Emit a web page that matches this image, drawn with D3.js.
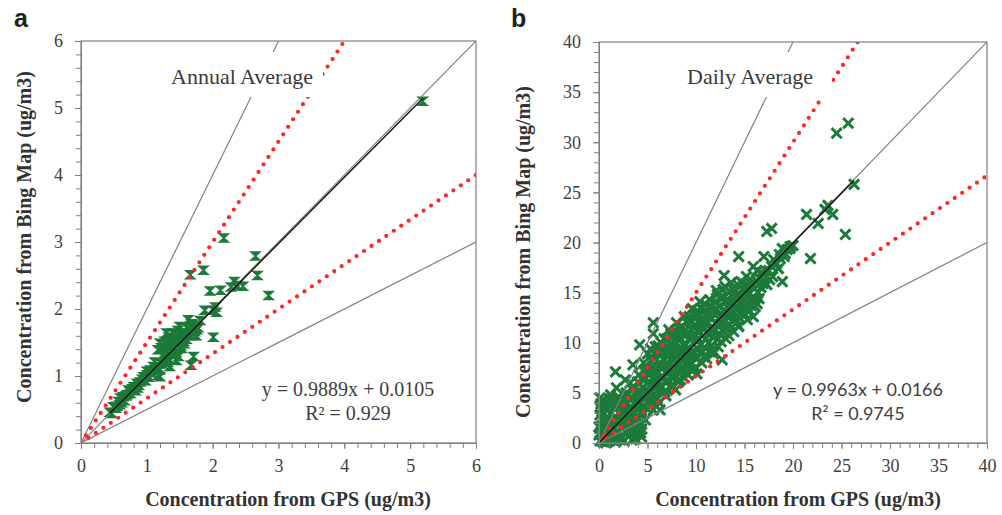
<!DOCTYPE html>
<html>
<head>
<meta charset="utf-8">
<script src="https://cdn.jsdelivr.net/npm/d3@7"></script>
<style>
  body { margin: 0; background: #fff; }
  .tick text { font-family: "Liberation Serif", serif; font-size: 18px; fill: #404040; }
  .axis path, .axis line { stroke: #7f7f7f; }
</style>
</head>
<body>
<script>
// panel a - annual average, GPS (x) vs Bing Map (y)
var annualPoints = [
  [0.44, 0.46], [0.47, 0.44], [0.49, 0.54], [0.53, 0.52], [0.55, 0.55], [0.57, 0.62], [0.59, 0.57],
  [0.60, 0.67], [0.62, 0.60], [0.64, 0.69], [0.66, 0.63], [0.68, 0.70], [0.70, 0.72], [0.72, 0.79], [0.75, 0.74],
  [0.78, 0.81], [0.80, 0.84], [0.83, 0.78], [0.85, 0.89], [0.86, 0.82], [0.88, 0.86], [0.90, 0.91],
  [0.93, 0.95], [0.95, 0.99], [0.98, 0.93], [1.00, 1.02], [1.00, 1.07], [1.03, 0.98], [1.05, 1.09],
  [1.08, 1.05], [1.10, 1.14], [1.12, 1.21], [1.15, 1.12], [1.17, 1.01], [1.17, 1.39], [1.20, 1.09],
  [1.20, 1.49], [1.20, 0.99], [1.22, 1.42], [1.23, 1.18], [1.25, 1.29], [1.27, 1.52], [1.28, 1.35], [1.28, 1.22],
  [1.30, 1.39], [1.30, 1.64], [1.32, 1.46], [1.32, 1.20], [1.33, 1.58], [1.35, 1.24], [1.35, 1.14], [1.37, 1.52],
  [1.38, 1.36], [1.40, 1.44], [1.40, 1.64], [1.42, 1.33], [1.43, 1.50], [1.45, 1.23], [1.45, 1.58], [1.47, 1.68],
  [1.48, 1.29], [1.48, 1.54], [1.50, 1.74], [1.51, 1.60], [1.52, 1.45], [1.53, 1.41], [1.55, 1.62], [1.56, 1.52],
  [1.57, 1.48], [1.58, 1.64], [1.60, 1.55], [1.60, 1.72], [1.62, 1.62], [1.63, 1.84], [1.64, 1.70], [1.66, 1.69],
  [1.68, 1.60], [1.68, 1.78], [1.70, 1.76], [1.71, 1.29], [1.67, 1.16], [1.72, 1.68], [1.73, 1.66], [1.75, 1.60],
  [1.76, 1.69], [1.78, 1.72], [1.81, 1.83], [1.66, 2.51], [1.86, 2.58], [1.96, 2.27], [2.12, 2.28], [1.88, 1.98],
  [2.01, 1.98], [2.04, 2.03], [2.06, 1.95], [2.01, 1.58], [2.17, 3.06], [2.28, 2.33], [2.33, 2.41], [2.37, 2.35],
  [2.46, 2.34], [2.65, 2.79], [2.68, 2.50], [2.85, 2.20], [5.19, 5.10]
];
var annualTicks = [0, 1, 2, 3, 4, 5, 6];
var annualFit = [0.9889, 0.0105];   // slope, intercept
var annualFitRange = [0.44, 5.19];
var annualEquation = ["y = 0.9889x + 0.0105", "R\u00b2 = 0.929"];

// panel b - daily average
var dailyPoints = [
  [0.1, 0.2], [0.2, 1.1], [0.3, 2.3], [0.2, 3.4], [0.4, 4.3], [0.5, 0.6], [0.3, 1.7], [0.5, 2.9], [0.6, 3.9], [0.4, 0.1],
  [0.0, 0.8], [0.1, 2.8], [0.2, 3.9], [0.6, 1.3], [0.7, 2.2], [0.9, 4.0], [0.0, 1.6], [0.1, 4.5], [0.7, 0.0],
  [0.8, 0.3], [0.9, 1.4], [1.0, 2.4], [0.8, 3.3], [1.1, 4.4], [1.2, 0.9], [1.0, 1.9], [1.2, 3.0], [1.3, 3.8], [1.1, 0.2],
  [1.3, 1.2], [1.4, 2.1], [1.4, 4.4], [1.8, 0.6], [1.9, 3.6], [2.2, 2.3], [2.2, 0.3],
  [1.5, 0.5], [1.6, 1.5], [1.7, 2.6], [1.5, 3.5], [1.8, 4.2], [2.0, 1.0], [1.9, 2.0], [2.1, 3.1], [2.0, 4.6], [1.7, 0.1],
  [2.3, 0.6], [2.4, 1.6], [2.5, 2.4], [2.6, 3.3], [2.4, 4.1], [2.8, 5.0], [2.7, 1.1], [2.9, 2.0], [2.8, 2.9], [2.6, 0.2],
  [2.5, 3.8], [2.9, 4.0], [3.0, 1.3], [3.3, 2.9], [3.7, 3.8], [3.7, 5.0], [3.0, 4.9], [2.5, 1.9], [3.4, 0.3], [3.9, 0.9], [4.4, 0.6],
  [3.1, 0.7], [3.2, 1.7], [3.0, 2.6], [3.3, 3.6], [3.4, 4.5], [3.5, 5.3], [3.4, 1.2], [3.6, 2.3], [3.5, 3.2], [3.2, 6.0],
  [3.8, 0.4], [3.9, 1.5], [4.0, 2.5], [4.1, 3.4], [3.9, 4.2], [4.2, 5.1], [4.0, 6.1], [4.3, 1.0], [4.2, 2.0], [4.3, 4.0], [4.1, 6.8],
  [4.5, 2.8], [4.6, 3.7], [4.7, 4.6], [4.5, 5.5], [4.8, 6.4], [4.9, 7.3], [4.6, 8.0], [5.0, 3.4], [4.9, 5.0], [5.0, 8.9], [4.4, 1.4],
  [4.4, 3.2], [4.3, 4.8], [4.5, 6.3], [4.7, 7.1], [4.8, 2.3], [5.1, 4.6], [5.1, 6.1], [5.0, 7.6], [5.4, 8.2],
  [5.5, 4.2], [5.6, 5.5], [5.9, 7.2], [5.7, 8.9], [5.9, 5.8], [6.2, 4.0], [6.3, 9.2],
  [5.2, 4.1], [5.3, 5.0], [5.4, 5.9], [5.2, 6.8], [5.5, 7.6], [5.6, 8.5], [5.3, 9.4], [5.8, 4.6], [5.7, 6.3], [5.8, 9.6], [5.6, 3.3],
  [6.0, 4.4], [6.1, 5.3], [6.2, 6.1], [6.0, 7.0], [6.3, 7.9], [6.4, 8.8], [6.1, 9.7], [6.6, 5.0], [6.5, 6.7], [6.6, 9.3], [6.4, 10.0],
  [6.4, 5.7], [6.5, 7.4], [6.7, 8.3], [6.7, 10.4], [6.9, 4.7], [7.1, 6.3], [7.1, 7.6], [7.3, 9.0], [7.5, 10.0],
  [7.5, 6.6], [7.7, 8.8], [7.9, 5.3], [7.9, 11.2], [8.1, 7.1], [8.3, 9.5], [8.3, 10.6],
  [6.8, 5.1], [6.9, 6.0], [7.0, 6.9], [6.8, 7.8], [7.1, 8.6], [7.2, 9.5], [7.0, 10.4], [7.4, 5.7], [7.3, 7.4], [7.4, 10.9], [7.2, 11.3],
  [7.6, 5.6], [7.7, 6.5], [7.8, 7.4], [7.6, 8.3], [7.9, 9.1], [8.0, 10.0], [7.8, 10.8], [8.2, 6.1], [8.1, 8.0], [8.2, 11.4], [8.0, 12.0],
  [8.4, 6.3], [8.5, 7.2], [8.6, 8.1], [8.4, 9.0], [8.7, 9.8], [8.8, 10.7], [8.6, 11.6], [9.0, 7.0], [8.9, 8.8], [9.0, 12.1], [8.8, 12.6],
  [8.6, 6.7], [8.7, 8.6], [8.7, 11.1], [8.9, 9.8], [9.1, 8.1], [9.1, 10.9], [9.3, 12.6], [9.5, 7.3], [9.5, 9.0],
  [9.7, 10.7], [9.9, 8.5], [9.9, 11.8], [10.1, 13.2], [10.1, 6.9],
  [9.2, 6.8], [9.3, 7.7], [9.4, 8.6], [9.2, 9.5], [9.5, 10.3], [9.6, 11.2], [9.4, 12.1], [9.8, 7.4], [9.7, 9.2], [9.8, 12.8], [9.6, 13.4],
  [10.0, 7.5], [10.1, 8.4], [10.2, 9.3], [10.0, 10.2], [10.3, 11.0], [10.4, 11.9], [10.2, 12.8], [10.6, 8.0], [10.5, 9.8], [10.6, 13.4], [10.4, 14.1],
  [10.3, 10.4], [10.5, 12.3], [10.7, 9.1], [10.7, 11.7], [10.9, 13.2], [11.1, 8.4], [11.3, 10.0], [11.2, 12.6],
  [11.5, 11.4], [11.5, 13.7], [11.7, 9.3], [11.9, 11.2], [12.1, 13.4], [12.3, 9.6],
  [10.8, 8.6], [10.9, 9.5], [11.0, 10.4], [10.8, 11.3], [11.1, 12.1], [11.2, 13.0], [11.0, 13.8], [11.4, 9.1], [11.3, 10.9], [11.4, 14.3],
  [11.6, 9.7], [11.7, 10.6], [11.8, 11.5], [11.6, 12.4], [11.9, 13.2], [12.0, 14.1], [12.2, 10.3], [12.1, 12.0], [12.2, 14.8], [11.8, 8.9],
  [12.3, 12.4], [12.5, 14.5], [12.7, 11.2], [12.9, 12.3], [13.1, 14.1], [13.1, 10.4], [13.3, 13.0], [13.5, 11.8],
  [13.7, 12.9], [13.9, 14.5], [13.9, 11.1], [14.3, 13.6], [14.1, 14.7],
  [12.4, 10.9], [12.5, 11.8], [12.6, 12.7], [12.4, 13.6], [12.7, 14.4], [12.8, 15.3], [13.0, 11.5], [12.9, 13.2], [13.0, 15.6], [12.6, 10.1],
  [13.2, 11.6], [13.3, 12.5], [13.4, 13.4], [13.2, 14.3], [13.5, 15.1], [13.6, 16.0], [13.8, 12.2], [13.7, 14.0], [13.8, 15.4], [13.4, 10.7],
  [14.0, 12.4], [14.1, 13.3], [14.2, 14.2], [14.0, 15.1], [14.3, 15.8], [14.4, 11.7], [14.6, 13.0], [14.5, 14.8], [14.6, 16.1], [14.2, 12.0],
  [14.5, 12.5], [14.7, 14.1], [14.9, 15.4], [15.1, 14.7], [15.3, 12.3], [15.5, 15.0], [15.7, 13.7], [15.7, 15.9],
  [16.0, 14.3], [16.5, 14.4], [16.7, 15.5], [17.0, 16.1], [17.1, 17.2], [17.6, 16.3],
  [14.8, 13.5], [14.9, 14.4], [15.0, 15.3], [14.8, 16.0], [15.1, 12.8], [15.3, 14.0], [15.4, 15.6], [15.6, 16.3], [15.2, 16.6], [15.5, 13.2],
  [15.8, 14.3], [16.0, 15.4], [16.2, 16.2], [15.9, 12.6], [16.1, 13.6], [16.4, 15.0], [16.6, 16.4], [16.8, 17.0], [16.3, 17.2], [16.9, 15.9],
  [17.2, 16.5], [17.5, 17.2], [17.8, 17.6], [17.3, 15.8], [18.0, 18.3], [18.3, 17.9], [18.6, 18.8], [18.9, 19.4], [19.1, 18.6], [19.4, 19.3],
  [19.7, 19.6], [20.0, 19.7], [17.9, 16.6], [18.5, 17.4],
  // scattered ones
  [25.7, 31.9], [24.5, 30.9], [26.3, 25.8], [23.6, 23.7], [23.3, 23.3], [24.1, 22.8], [22.6, 21.9], [21.4, 22.8],
  [25.4, 20.8], [21.8, 18.4], [17.3, 21.1], [17.8, 21.4], [14.4, 18.6], [17.0, 18.6], [15.9, 17.6], [12.9, 16.7],
  [18.9, 16.1], [19.7, 19.4], [19.2, 18.9], [18.7, 18.4], [5.6, 12.0], [5.6, 10.9], [4.2, 9.8], [3.5, 7.8],
  [1.7, 7.1], [1.8, 5.5], [12.7, 8.3], [4.4, 1.9], [6.3, 3.3], [3.6, 0.9], [14.4, 11.6], [15.2, 13.6],
  [16.3, 13.9], [12.1, 15.2], [2.7, 6.3], [1.2, 4.8]
];
var dailyTicks = [0, 5, 10, 15, 20, 25, 30, 35, 40];
var dailyFit = [0.9963, 0.0166];
var dailyFitRange = [0, 26.3];
var dailyEquation = ["y = 0.9963x + 0.0166", "R\u00b2 = 0.9745"];

var solidSlopes = [2, 1, 0.5];
var dottedSlopes = [1.5, 2 / 3];

var svg = d3.select("body").append("svg")
    .attr("width", 1002)
    .attr("height", 515);

var green = "#1c7a3a";

drawPanel({
    id: "a", letter: "a", letterX: 14,
    left: 81, right: 476, top: 41, bottom: 443,
    max: 6, minor: 0.2, ticks: annualTicks,
    points: annualPoints,
    marker: "M-4.5,-4H4.5L-4.5,4H4.5Z", markerFill: green, markerWidth: 1.5,
    fit: annualFit, fitRange: annualFitRange,
    title: "Annual Average", titleX: 171, box: [165, 52, 158, 45],
    equation: annualEquation, eqFont: '"Liberation Serif", serif', eqSize: 20, eqX: 348,
    yLabelX: 31, yLabelY: 237, xLabelX: 288
});

drawPanel({
    id: "b", letter: "b", letterX: 511,
    left: 599, right: 987, top: 42, bottom: 443,
    max: 40, minor: 1, ticks: dailyTicks,
    points: dailyPoints,
    marker: "M-4,-4L4,4M4,-4L-4,4", markerFill: "none", markerWidth: 3,
    fit: dailyFit, fitRange: dailyFitRange,
    title: "Daily Average", titleX: 687, box: [680, 52, 152, 45],
    equation: dailyEquation, eqFont: 'Lato, sans-serif', eqSize: 18, eqX: 858,
    yLabelX: 530, yLabelY: 252, xLabelX: 798
});

function drawPanel(p) {
    var x = d3.scaleLinear().domain([0, p.max]).range([p.left, p.right]);
    var y = d3.scaleLinear().domain([0, p.max]).range([p.bottom, p.top]);

    var g = svg.append("g");

    g.append("clipPath").attr("id", "clip-" + p.id)
        .append("rect")
        .attr("x", p.left).attr("y", p.top)
        .attr("width", p.right - p.left).attr("height", p.bottom - p.top);

    // markers
    g.append("g").selectAll("path")
        .data(p.points)
        .enter().append("path")
        .attr("transform", function (d) {
            return "translate(" + x(d[0]) + "," + y(d[1]) + ")";
        })
        .attr("d", p.marker)
        .style("fill", p.markerFill)
        .style("stroke", green)
        .style("stroke-width", p.markerWidth)
        .style("stroke-linecap", "square");

    var lines = g.append("g").attr("clip-path", "url(#clip-" + p.id + ")");
    var line = d3.line()
        .x(function (d) { return x(d[0]); })
        .y(function (d) { return y(d[1]); });

    solidSlopes.forEach(function (s) {
        lines.append("path")
            .datum([[0, 0], [p.max, p.max * s]])
            .attr("d", line)
            .style("fill", "none")
            .style("stroke", "#808080")
            .style("stroke-width", 1.2);
    });

    dottedSlopes.forEach(function (s) {
        lines.append("path")
            .datum([[0, 0], [p.max, p.max * s]])
            .attr("d", line)
            .style("fill", "none")
            .style("stroke", "#ff2626")
            .style("stroke-width", 4.2)
            .style("stroke-linecap", "round")
            .style("stroke-dasharray", "0 9");
    });

    // trend line
    lines.append("path")
        .datum(p.fitRange.map(function (v) { return [v, p.fit[0] * v + p.fit[1]]; }))
        .attr("d", line)
        .style("fill", "none")
        .style("stroke", "#111")
        .style("stroke-width", 1.4);

    // title with white box
    g.append("rect")
        .attr("x", p.box[0]).attr("y", p.box[1])
        .attr("width", p.box[2]).attr("height", p.box[3])
        .style("fill", "#fff");
    g.append("text")
        .attr("x", p.titleX).attr("y", 84)
        .style("font-family", '"Liberation Serif", serif')
        .style("font-size", "22px")
        .style("fill", "#3a3a3a")
        .text(p.title);

    // equation
    g.selectAll("text.eq")
        .data(p.equation)
        .enter().append("text")
        .attr("class", "eq")
        .attr("x", p.eqX)
        .attr("y", function (d, i) { return 396 + i * 24; })
        .attr("text-anchor", "middle")
        .style("font-family", p.eqFont)
        .style("font-size", p.eqSize + "px")
        .style("fill", "#404040")
        .text(function (d) { return d; });

    // frame
    g.append("rect")
        .attr("x", p.left).attr("y", p.top)
        .attr("width", p.right - p.left).attr("height", p.bottom - p.top)
        .style("fill", "none")
        .style("stroke", "#7f7f7f")
        .style("stroke-width", 1.2);

    var minorTicks = d3.range(0, p.max + p.minor / 2, p.minor);

    g.append("g")
        .attr("class", "axis")
        .attr("transform", "translate(0," + p.bottom + ")")
        .call(d3.axisBottom(x).tickValues(minorTicks).tickSize(5).tickFormat(""));
    g.append("g")
        .attr("class", "axis")
        .attr("transform", "translate(0," + p.bottom + ")")
        .call(d3.axisBottom(x).tickValues(p.ticks).tickSize(6).tickPadding(10).tickFormat(d3.format("d")));

    g.append("g")
        .attr("class", "axis")
        .attr("transform", "translate(" + p.left + ",0)")
        .call(d3.axisLeft(y).tickValues(minorTicks).tickSize(5).tickFormat(""));
    g.append("g")
        .attr("class", "axis")
        .attr("transform", "translate(" + p.left + ",0)")
        .call(d3.axisLeft(y).tickValues(p.ticks).tickSize(6).tickPadding(12).tickFormat(d3.format("d")));

    // axis titles
    g.append("text")
        .attr("x", p.xLabelX).attr("y", 506)
        .attr("text-anchor", "middle")
        .style("font-family", '"Liberation Serif", serif')
        .style("font-weight", "bold")
        .style("font-size", "20px")
        .style("fill", "#333")
        .text("Concentration from GPS (ug/m3)");

    g.append("text")
        .attr("transform", "translate(" + p.yLabelX + "," + p.yLabelY + ") rotate(-90)")
        .attr("text-anchor", "middle")
        .style("font-family", '"Liberation Serif", serif')
        .style("font-weight", "bold")
        .style("font-size", "20px")
        .style("fill", "#333")
        .text("Concentration from Bing Map (ug/m3)");

    g.append("text")
        .attr("x", p.letterX).attr("y", 27)
        .style("font-family", '"Liberation Sans", Arial, sans-serif')
        .style("font-weight", "bold")
        .style("font-size", "25px")
        .style("fill", "#222")
        .text(p.letter);
}
</script>
</body>
</html>
